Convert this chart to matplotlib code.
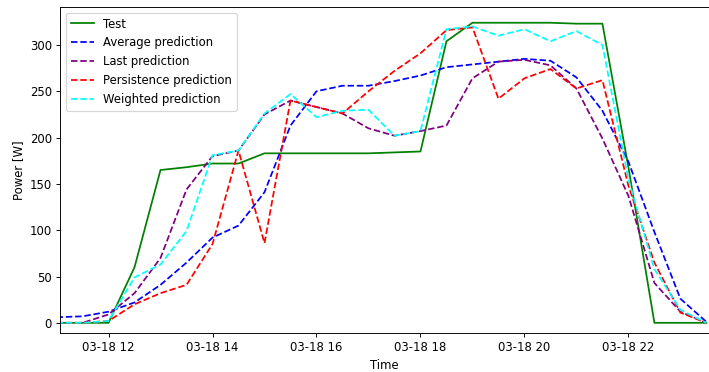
#!/usr/bin/env python3

import matplotlib
matplotlib.use('Agg')
import matplotlib.pyplot as plt
import matplotlib.dates as mdates
import pandas as pd

times = pd.date_range('2023-03-18 11:00', '2023-03-18 23:30', freq='30min')

test = [0, 0, 0, 60, 165, 168, 172, 172, 183, 183, 183, 183, 183, 184,
        185, 304, 324, 324, 324, 324, 323, 323, 168, 0, 0, 0]
average = [6, 7, 12, 22, 41, 65, 92, 105, 141, 213, 250, 256, 256, 261,
           267, 276, 279, 282, 285, 283, 265, 229, 174, 98, 26, 1]
last = [0, 0, 9, 32, 70, 144, 180, 186, 225, 240, 233, 226, 210, 202,
        207, 213, 264, 282, 284, 278, 253, 199, 137, 43, 12, 0]
persistence = [0, 0, 2, 20, 32, 41, 85, 186, 86, 240, 233, 226, 250, 272,
               291, 316, 319, 242, 264, 274, 253, 262, 148, 65, 11, 0]
weighted = [0, 0, 2, 49, 63, 99, 181, 186, 226, 247, 222, 229, 230, 202,
            207, 317, 320, 310, 317, 304, 315, 300, 155, 58, 14, 0]


def main():
    dpi = 84
    fig = plt.figure(figsize=(709 / dpi, 372 / dpi), dpi=dpi)
    ax = fig.add_axes([60 / 709, 1 - 333 / 372, 649 / 709, 326 / 372])

    ax.plot(times, test, color='green', label='Test')
    ax.plot(times, average, '--', color='blue', label='Average prediction')
    ax.plot(times, last, '--', color='purple', label='Last prediction')
    ax.plot(times, persistence, '--', color='red', label='Persistence prediction')
    ax.plot(times, weighted, '--', color='cyan', label='Weighted prediction')

    ax.set_xlim(pd.Timestamp('2023-03-18 11:04'), pd.Timestamp('2023-03-18 23:33'))
    ax.set_ylim(-11, 341)
    ax.xaxis.set_major_locator(mdates.HourLocator(interval=2))
    ax.xaxis.set_major_formatter(mdates.DateFormatter('%m-%d %H'))
    ax.set_xlabel('Time')
    ax.set_ylabel('Power [W]')
    ax.legend(loc='upper left')

    fig.savefig('out.png', dpi=dpi)


if __name__ == "__main__":
    main()
